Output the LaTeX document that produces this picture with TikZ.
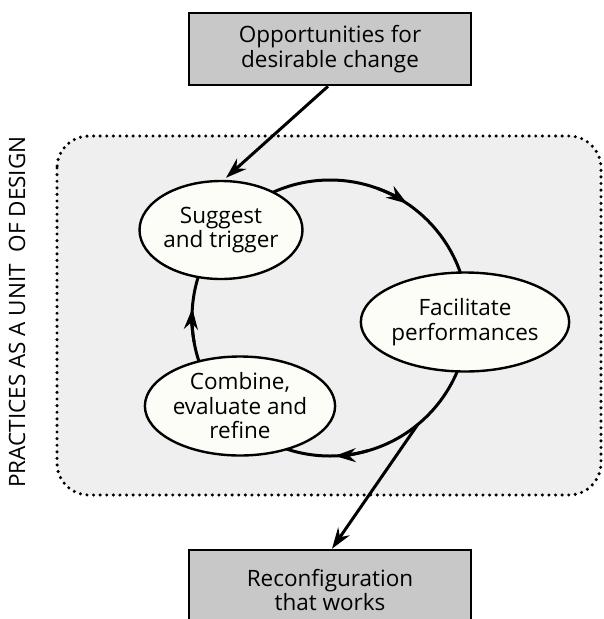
\documentclass[tikz,border=0pt]{standalone}
\usepackage{fontspec}
\setmainfont{Open Sans}
\usetikzlibrary{arrows.meta,shapes.geometric}
\definecolor{regionfill}{HTML}{EFEFEF}
\definecolor{boxfill}{HTML}{C8C8C8}
\definecolor{ellfill}{HTML}{FDFDF7}
\begin{document}
\begin{tikzpicture}[x=1pt,y=-1pt,
  headtip/.style={-{Stealth[length=21pt,width=14pt,inset=7pt]}},
  tip/.style={line width=3pt,headtip},
  gbox/.style={draw,line width=2.6pt,fill=boxfill,align=center,font=\fontsize{22.5}{24.5}\selectfont},
  stage/.style={ellipse,draw,line width=2.4pt,fill=ellfill,inner sep=0pt,align=center,font=\fontsize{22.5}{24.5}\selectfont},
  lbl/.style={align=center,font=\fontsize{22.5}{24.5}\selectfont},
  ring/.style={line width=3pt},
  regionstyle/.style={fill=regionfill,line width=3.4pt,line cap=round,dash pattern=on 0pt off 6.6pt,rounded corners=32pt},
]
\clip (0,0) rectangle (603,619);
\useasboundingbox (0,0) rectangle (603,619);
% region
\draw[regionstyle] (57,136) rectangle (601,495);
\node[lbl,rotate=90] (side) at (17,312) {PRACTICES AS A UNIT\ \ OF DESIGN};
% boxes
\node[gbox,minimum width=282pt,minimum height=72pt] (top) at (330,49) {Opportunities for\\desirable change};
\node[gbox,minimum width=282pt,minimum height=80pt] (bottom) at (330,590) {Reconfiguration\\that works};
% cycle
\coordinate (c) at (330,318);
\draw[ring] (c) circle[radius=138];
\draw[ring,headtip] (c) ++(290:138) arc[start angle=290,end angle=304,radius=138];
\draw[ring,headtip] (c) ++(170:138) arc[start angle=170,end angle=184,radius=138];
\draw[ring,headtip] (c) ++(74:138) arc[start angle=74,end angle=88,radius=138];
\path (c) ++(50.5:138) coordinate (exit);
\node[stage,minimum width=162pt,minimum height=98pt] (suggest) at (221,230) {Suggest\\and trigger};
\node[stage,minimum width=163pt,minimum height=99pt] (facil) at (465,322) {Facilitate\\performances};
\node[stage,minimum width=164pt,minimum height=99pt] (combine) at (240,406) {Combine,\\evaluate and\\refine};
% connectors
\draw[tip] ([xshift=-2pt]top.south) -- ([xshift=5pt,yshift=2pt]suggest.north);
\draw[tip] (exit) -- ([xshift=2pt]bottom.north);
\end{tikzpicture}
\end{document}
